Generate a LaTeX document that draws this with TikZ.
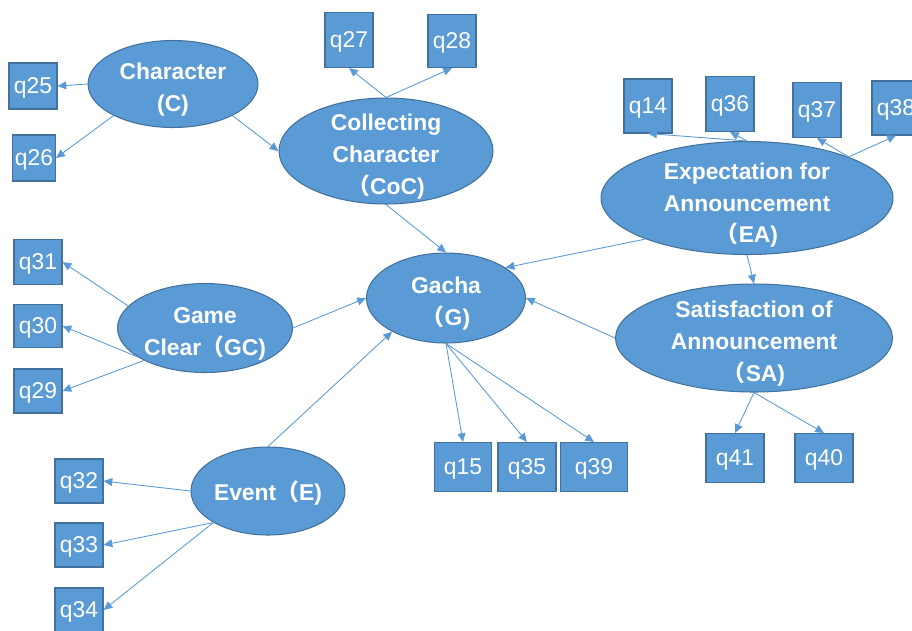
\documentclass[tikz,border=0pt]{standalone}
\usepackage{fontspec}
\setmainfont{Liberation Sans}
\newfontfamily\cjk{Noto Sans CJK SC}
\usepackage{xcolor}
\definecolor{boxblue}{HTML}{5B9BD5}
\definecolor{edgeblue}{HTML}{41719C}
\usepackage{tikz}
\usetikzlibrary{
    arrows.meta,
    shapes.geometric,
}
\newcommand{\fwparen}{{\cjk （}}
\newcommand{\headroom}[1]{\rule{0pt}{#1}}

\begin{document}
\begin{tikzpicture}[%
    x=0.02cm,
    y=-0.02cm,
    latent/.style={
        ellipse,
        draw=edgeblue,
        line width=0.6pt,
        fill=boxblue,
        text=white,
        inner xsep=0,
        inner ysep=-4pt,
        text depth=0pt,
        align=center,
        font=\bfseries\fontsize{13}{18}\selectfont,
    },
    obs/.style={
        rectangle,
        draw=edgeblue,
        line width=0.6pt,
        fill=boxblue,
        text=white,
        inner sep=0,
        text depth=0pt,
        minimum width=0.96cm,
        minimum height=0.92cm,
        font=\fontsize{13}{16}\selectfont,
    },
    link/.style={
        draw=boxblue,
        line width=0.5pt,
        -{Triangle[length=5pt,width=4.5pt]}
    }
]

\useasboundingbox (0,0) rectangle (912,630);
\clip (0,0) rectangle (912,630);

% latent factors
\node [latent, minimum width=3.4cm, minimum height=1.74cm] (C) at (173,84) {\headroom{13pt}Character\\(C)};
\node [latent, minimum width=4.28cm, minimum height=2.12cm] (CoC) at (386,151) {\headroom{13pt}Collecting\\Character\\\fwparen CoC)};
\node [latent, minimum width=5.84cm, minimum height=2.26cm] (EA) at (747,198) {\headroom{15pt}Expectation for\\Announcement\\\fwparen EA)};
\node [latent, minimum width=3.18cm, minimum height=1.8cm] (G) at (446,298) {\headroom{13pt}Gacha\\\fwparen G)};
\node [latent, minimum width=5.54cm, minimum height=2.16cm] (SA) at (754,338) {\headroom{13pt}Satisfaction of\\Announcement\\\fwparen SA)};
\node [latent, minimum width=3.5cm, minimum height=1.78cm] (GC) at (205,328) {\headroom{13pt}Game\\Clear\fwparen GC)};
\node [latent, minimum width=3.08cm, minimum height=1.76cm, text depth=-1pt] (E) at (268,491) {Event\fwparen E)};

% observed items
\node [obs] (q25) at (33,86) {q25};
\node [obs, minimum width=0.86cm] (q26) at (34,158) {q26};
\node [obs, minimum height=1.1cm] (q27) at (349,40) {q27};
\node [obs, minimum height=1.06cm] (q28) at (452,41) {q28};
\node [obs, minimum height=1.08cm] (q14) at (648,106) {q14};
\node [obs, minimum height=1.1cm] (q36) at (730,104) {q36};
\node [obs, minimum height=1.1cm] (q37) at (817,110) {q37};
\node [obs, minimum height=1.08cm] (q38) at (896,108) {q38};
\node [obs, minimum height=0.9cm] (q31) at (38,262) {q31};
\node [obs, minimum height=0.86cm] (q30) at (38,326) {q30};
\node [obs, minimum height=0.88cm] (q29) at (38,391) {q29};
\node [obs, minimum height=0.88cm] (q32) at (79,481) {q32};
\node [obs, minimum height=0.88cm] (q33) at (79,545) {q33};
\node [obs, minimum height=0.88cm] (q34) at (79,610) {q34};
\node [obs, minimum width=1.14cm, minimum height=0.98cm] (q15) at (463,467) {q15};
\node [obs, minimum width=1.16cm, minimum height=0.98cm] (q35) at (527,467) {q35};
\node [obs, minimum width=1.34cm, minimum height=0.98cm] (q39) at (594,467) {q39};
\node [obs, minimum width=1.16cm, minimum height=0.98cm] (q41) at (735,458) {q41};
\node [obs, minimum width=1.16cm, minimum height=0.98cm] (q40) at (824,458) {q40};

% structural paths
\draw [link] (C.332) -- (CoC.west);
\draw [link] (CoC.south) -- (G.north);
\draw [link] (EA.202) -- (G.27);
\draw [link] (EA.south) -- (SA.north);
\draw [link] (SA.west) -- (G.east);
\draw [link] (GC.east) -- (G.west);
\draw [link] (E.north) -- (G.212);

% measurement paths
\draw [link] (C.west) -- (q25.east);
\draw [link] (C.208) -- (q26.east);
\draw [link] (CoC.north) -- (q27.south);
\draw [link] (CoC.north) -- (q28.south);
\draw [link] (EA.north) -- (q14.south);
\draw [link] (EA.north) -- (q36.south);
\draw [link] (EA.22) -- (q37.south);
\draw [link] (EA.22) -- (q38.south);
\draw [link] (GC.164) -- (q31.east);
\draw [link] (GC.203) -- (q30.east);
\draw [link] (GC.208) -- (q29.east);
\draw [link] (E.west) -- (q32.east);
\draw [link] (E.210) -- (q33.east);
\draw [link] (E.210) -- (q34.east);
\draw [link] (G.south) -- (q15.north);
\draw [link] (G.south) -- (q35.north);
\draw [link] (G.south) -- (q39.north);
\draw [link] (SA.south) -- (q41.north);
\draw [link] (SA.south) -- (q40.north);

\end{tikzpicture}
\end{document}
